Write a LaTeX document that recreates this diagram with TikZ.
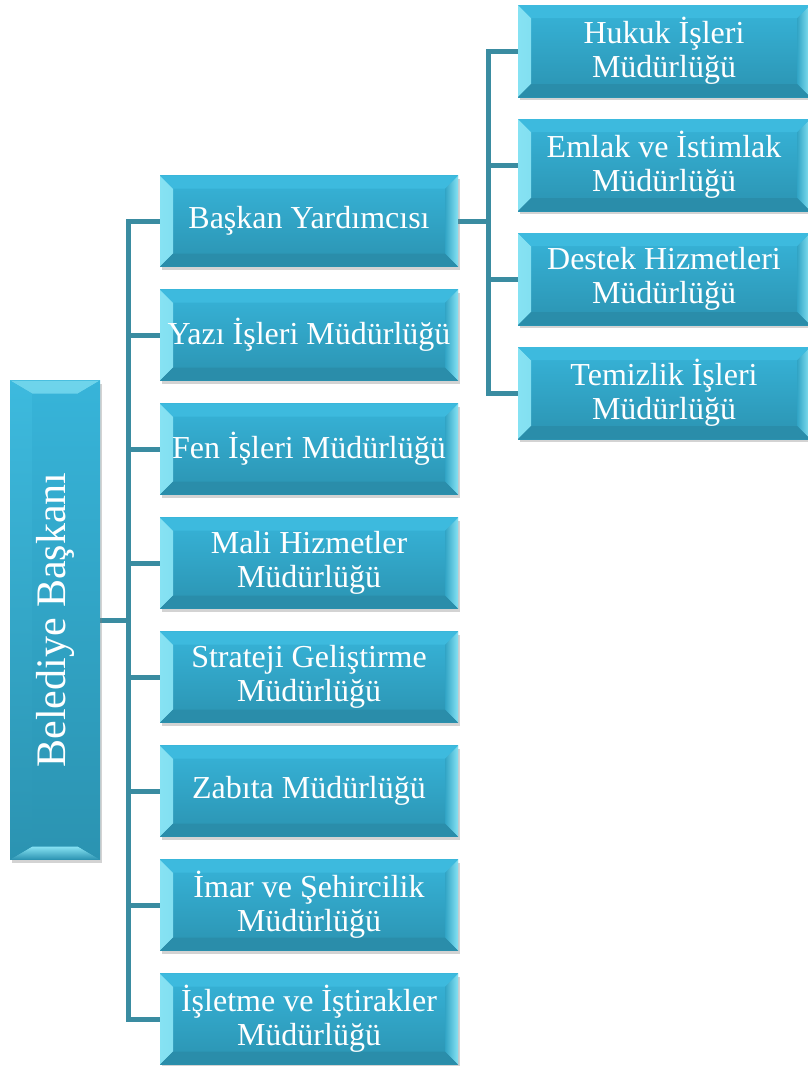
\documentclass[tikz,border=0pt]{standalone}
\usepackage{fontspec}
\setmainfont{Liberation Serif}
\usetikzlibrary{shadows,backgrounds}

\definecolor{boxtop}{HTML}{37B4D9}
\definecolor{boxbot}{HTML}{2B93B1}
\definecolor{boxmid}{HTML}{31A4C5}
\definecolor{bevlit}{HTML}{86E2F3}
\definecolor{bevtop}{HTML}{3DBADE}
\definecolor{bevbot}{HTML}{2A8DAA}
\definecolor{linkcol}{HTML}{3A8CA1}

% bevel edges: bright at left and right
\newcommand\sidebevels{%
  \shade[left color=bevlit, right color=boxmid] (path picture bounding box.north west) -- ([shift={(13pt,-13pt)}]path picture bounding box.north west) -- ([shift={(13pt,13pt)}]path picture bounding box.south west) -- (path picture bounding box.south west) -- cycle;
  \shade[right color=bevlit, left color=boxmid] (path picture bounding box.north east) -- ([shift={(-13pt,-13pt)}]path picture bounding box.north east) -- ([shift={(-13pt,13pt)}]path picture bounding box.south east) -- (path picture bounding box.south east) -- cycle;
  \fill[bevtop] (path picture bounding box.north west) -- ([shift={(13pt,-13pt)}]path picture bounding box.north west) -- ([shift={(-13pt,-13pt)}]path picture bounding box.north east) -- (path picture bounding box.north east) -- cycle;
  \fill[bevbot] (path picture bounding box.south west) -- ([shift={(13pt,13pt)}]path picture bounding box.south west) -- ([shift={(-13pt,13pt)}]path picture bounding box.south east) -- (path picture bounding box.south east) -- cycle;
}
% bevel edges: bright at top and bottom
\newcommand\tipbevels{%
  \shade[top color=bevlit!70!boxtop, bottom color=boxtop] (path picture bounding box.north west) -- ([shift={(22pt,-13pt)}]path picture bounding box.north west) -- ([shift={(-22pt,-13pt)}]path picture bounding box.north east) -- (path picture bounding box.north east) -- cycle;
  \shade[top color=bevlit, bottom color=boxbot] (path picture bounding box.south west) -- ([shift={(22pt,13pt)}]path picture bounding box.south west) -- ([shift={(-22pt,13pt)}]path picture bounding box.south east) -- (path picture bounding box.south east) -- cycle;
  \shade[top color=bevtop, bottom color=boxbot] (path picture bounding box.north west) -- ([shift={(22pt,-13pt)}]path picture bounding box.north west) -- ([shift={(22pt,13pt)}]path picture bounding box.south west) -- (path picture bounding box.south west) -- cycle;
  \shade[top color=boxtop, bottom color=boxbot] (path picture bounding box.north east) -- ([shift={(-22pt,-13pt)}]path picture bounding box.north east) -- ([shift={(-22pt,13pt)}]path picture bounding box.south east) -- (path picture bounding box.south east) -- cycle;
}

\tikzset{
  box/.style={top color=boxtop, bottom color=boxbot, text=white, align=center,
    inner sep=0pt, font=\fontsize{32}{34}\selectfont,
    drop shadow={shadow xshift=2pt, shadow yshift=-3pt, opacity=0.35}},
  unit/.style={box, minimum width=298pt, minimum height=91pt, path picture={\sidebevels}},
  sub/.style={box, minimum width=292pt, minimum height=92pt, path picture={\sidebevels}},
  head/.style={box, minimum width=90pt, minimum height=479pt,
    font=\fontsize{42}{48}\selectfont, path picture={\tipbevels}},
  link/.style={draw=linkcol, line width=5pt}
}

\begin{document}
\begin{tikzpicture}[x=1pt,y=-1pt]
  \useasboundingbox (0,0) rectangle (808,1066);

  % president
  \node[head] (bsk) at (55,620) {\rotatebox{90}{Belediye Başkanı}};

  % first level
  \node[unit] (yrd) at (309,221) {Başkan Yardımcısı};
  \node[unit] (yzi) at (309,335) {Yazı İşleri Müdürlüğü};
  \node[unit] (fen) at (309,449) {Fen İşleri Müdürlüğü};
  \node[unit] (mli) at (309,563) {Mali Hizmetler\\Müdürlüğü};
  \node[unit] (str) at (309,677) {Strateji Geliştirme\\Müdürlüğü};
  \node[unit] (zbt) at (309,791) {Zabıta Müdürlüğü};
  \node[unit] (imr) at (309,905) {İmar ve Şehircilik\\Müdürlüğü};
  \node[unit] (isl) at (309,1019) {İşletme ve İştirakler\\Müdürlüğü};

  % under the deputy
  \node[sub] (hkk) at (664,51) {Hukuk İşleri\\Müdürlüğü};
  \node[sub] (eml) at (664,165) {Emlak ve İstimlak\\Müdürlüğü};
  \node[sub] (dst) at (664,279) {Destek Hizmetleri\\Müdürlüğü};
  \node[sub] (tmz) at (664,393) {Temizlik İşleri\\Müdürlüğü};

  \coordinate (trunk) at (128,0);
  \coordinate (branch) at (488,0);

  % connectors
  \begin{scope}[on background layer]
    \draw[link] (bsk.east) -- (bsk.east -| trunk);
    \draw[link, line cap=rect] (yrd.west -| trunk) -- (isl.west -| trunk);
    \foreach \n in {yrd,yzi,fen,mli,str,zbt,imr,isl}
      \draw[link] (\n.west -| trunk) -- (\n.west);
    \draw[link] (yrd.east) -- (yrd.east -| branch);
    \draw[link, line cap=rect] (hkk.west -| branch) -- (tmz.west -| branch);
    \foreach \n in {hkk,eml,dst,tmz}
      \draw[link] (\n.west -| branch) -- (\n.west);
  \end{scope}
\end{tikzpicture}
\end{document}
